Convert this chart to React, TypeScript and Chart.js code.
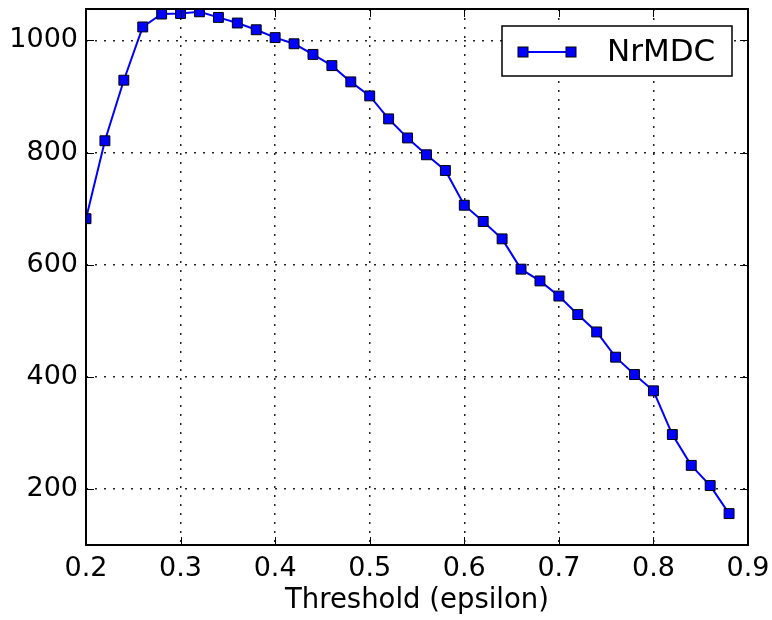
import React, { useEffect, useRef } from "react";
import { Chart, registerables } from "chart.js";

Chart.register(...registerables);

const thresholds = [
  0.2, 0.22, 0.24, 0.26, 0.28, 0.3, 0.32, 0.34, 0.36, 0.38, 0.4, 0.42, 0.44, 0.46, 0.48,
  0.5, 0.52, 0.54, 0.56, 0.58, 0.6, 0.62, 0.64, 0.66, 0.68, 0.7, 0.72, 0.74, 0.76, 0.78,
  0.8, 0.82, 0.84, 0.86, 0.88,
];
const nrmdc = [
  682, 821, 929, 1024, 1047, 1048, 1051, 1041, 1031, 1019, 1005, 994, 975, 955, 926,
  901, 860, 826, 796, 768, 706, 677, 646, 592, 571, 544, 511, 480, 435, 404,
  375, 297, 242, 206, 156,
];
const xTicks = [0.2, 0.3, 0.4, 0.5, 0.6, 0.7, 0.8, 0.9];
const yTicks = [200, 400, 600, 800, 1000];
const seriesName = "NrMDC";
const xTitle = "Threshold (epsilon)";

const FONT = "'DejaVu Sans', sans-serif";

const framePlugin = {
  id: "frame",
  afterDatasetsDraw(chart: any) {
    const { ctx, chartArea: a, scales } = chart;
    ctx.save();
    ctx.strokeStyle = "#000";
    ctx.lineWidth = 1;
    const tl = 8;
    ctx.beginPath();
    xTicks.forEach((v) => {
      const x = Math.round(scales.x.getPixelForValue(v)) + 0.5;
      ctx.moveTo(x, a.bottom);
      ctx.lineTo(x, a.bottom - tl);
      ctx.moveTo(x, a.top);
      ctx.lineTo(x, a.top + tl);
    });
    yTicks.forEach((v) => {
      const y = Math.round(scales.y.getPixelForValue(v)) + 0.5;
      ctx.moveTo(a.left, y);
      ctx.lineTo(a.left + tl, y);
      ctx.moveTo(a.right, y);
      ctx.lineTo(a.right - tl, y);
    });
    ctx.stroke();
    ctx.lineWidth = 2;
    ctx.strokeRect(a.left, a.top, a.right - a.left, a.bottom - a.top);

    // legend
    const bx = 502, by = 26, bw = 230, bh = 50;
    ctx.fillStyle = "#fff";
    ctx.fillRect(bx, by, bw, bh);
    ctx.lineWidth = 1.5;
    ctx.strokeStyle = "#000";
    ctx.strokeRect(bx, by, bw, bh);
    const ly = 52;
    ctx.strokeStyle = "#0000ff";
    ctx.lineWidth = 2;
    ctx.beginPath();
    ctx.moveTo(523, ly);
    ctx.lineTo(571, ly);
    ctx.stroke();
    [523, 571].forEach((mx) => {
      ctx.fillStyle = "#0000ff";
      ctx.fillRect(mx - 5, ly - 5, 10, 10);
      ctx.strokeStyle = "#000";
      ctx.lineWidth = 1;
      ctx.strokeRect(mx - 5, ly - 5, 10, 10);
    });
    ctx.fillStyle = "#000";
    ctx.font = `31px ${FONT}`;
    ctx.textBaseline = "middle";
    ctx.textAlign = "left";
    ctx.fillText(seriesName, 607, ly + 1);
    ctx.restore();
  },
};

export default function App() {
  const ref = useRef<HTMLCanvasElement | null>(null);
  useEffect(() => {
    if (!ref.current) return;
    const chart = new Chart(ref.current, {
      type: "line",
      data: {
        datasets: [
          {
            label: seriesName,
            data: thresholds.map((t, i) => ({ x: t, y: nrmdc[i] })),
            borderColor: "#0000ff",
            backgroundColor: "#0000ff",
            borderWidth: 2,
            pointStyle: "rect",
            pointRadius: 7,
            pointBorderColor: "#000",
            pointBorderWidth: 1,
            pointBackgroundColor: "#0000ff",
            tension: 0,
            clip: 0,
          } as any,
        ],
      },
      options: {
        animation: false,
        responsive: false,
        devicePixelRatio: 1,
        layout: { padding: { left: 0, top: 9, right: 24, bottom: 0 } },
        plugins: { legend: { display: false }, tooltip: { enabled: false } },
        scales: {
          x: {
            type: "linear",
            min: 0.2,
            max: 0.9,
            afterBuildTicks: (s: any) => {
              s.ticks = xTicks.map((v) => ({ value: v }));
            },
            afterFit: (s: any) => {
              s.height = 75;
              s.paddingLeft = 0;
              s.paddingRight = 0;
              s.paddingTop = 0;
              s.paddingBottom = 0;
            },
            border: { display: false, dash: [2, 7] },
            grid: {
              color: "#222",
              lineWidth: 1.5,
              drawTicks: false,
            },
            ticks: {
              color: "#000",
              font: { family: FONT, size: 27 },
              padding: 8,
              maxRotation: 0,
              autoSkip: false,
              callback: (v: any) => Number(v).toFixed(1),
            },
            title: {
              display: true,
              text: xTitle,
              color: "#000",
              font: { family: FONT, size: 27.5 },
              padding: { top: 0, bottom: 3 },
            },
          },
          y: {
            type: "linear",
            min: 100,
            max: 1056,
            afterBuildTicks: (s: any) => {
              s.ticks = yTicks.map((v) => ({ value: v }));
            },
            afterFit: (s: any) => {
              s.width = 86;
              s.paddingLeft = 0;
              s.paddingRight = 0;
              s.paddingTop = 0;
              s.paddingBottom = 0;
            },
            border: { display: false, dash: [2, 7] },
            grid: {
              color: "#222",
              lineWidth: 1.5,
              drawTicks: false,
            },
            ticks: {
              color: "#000",
              font: { family: FONT, size: 27 },
              padding: 8,
              autoSkip: false,
              callback: (v: any) => String(v),
            },
          },
        },
      },
      plugins: [framePlugin],
    });
    return () => chart.destroy();
  }, []);
  return (
    <div style={{ position: "absolute", left: 0, top: 0, width: 772, height: 620, background: "#fff" }}>
      <canvas ref={ref} width={772} height={620} />
    </div>
  );
}
